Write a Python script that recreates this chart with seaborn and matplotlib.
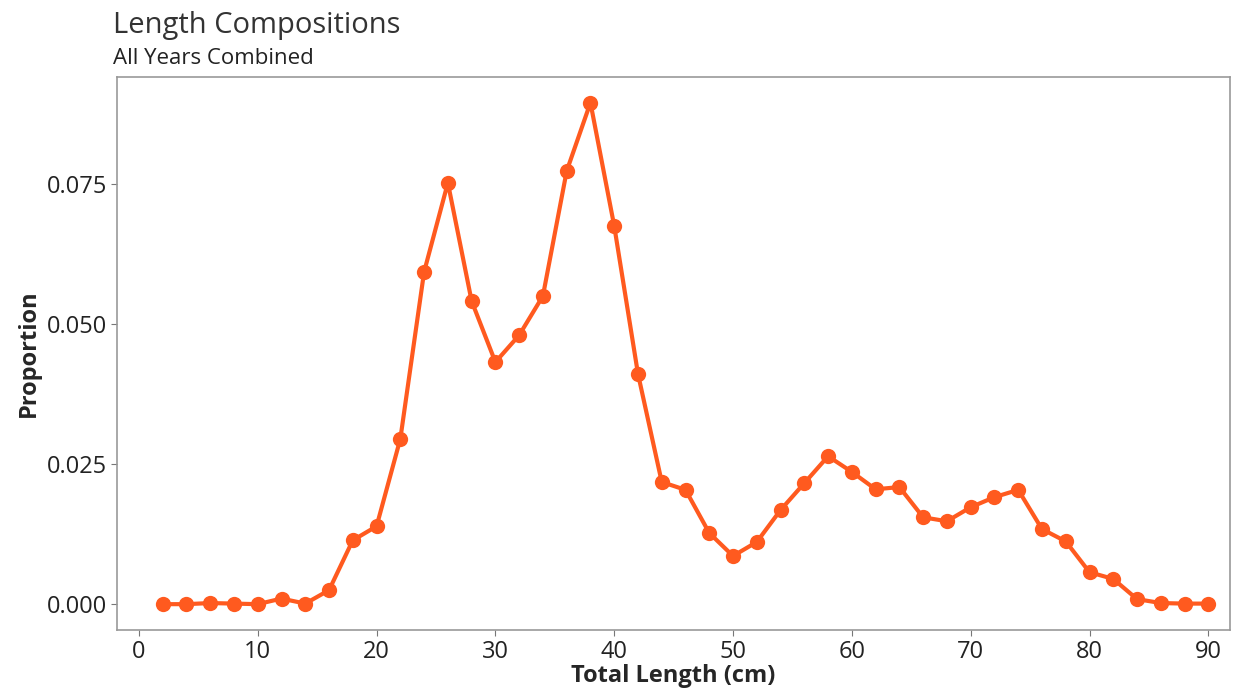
import numpy as np
import pandas as pd
import seaborn as sns
import matplotlib.pyplot as plt

# length bins (cm) and proportion per bin
length_cm = [2, 4, 6, 8, 10, 12, 14, 16, 18, 20, 22, 24, 26, 28, 30, 32, 34, 36, 38, 40,
             42, 44, 46, 48, 50, 52, 54, 56, 58, 60, 62, 64, 66, 68, 70, 72, 74, 76, 78, 80,
             82, 84, 86, 88, 90]
proportion = [0.0000, 0.0000, 0.0002, 0.0001, 0.0000, 0.0010, 0.0001, 0.0025, 0.0114, 0.0139,
              0.0295, 0.0593, 0.0752, 0.0541, 0.0432, 0.0480, 0.0550, 0.0773, 0.0895, 0.0675,
              0.0411, 0.0218, 0.0204, 0.0127, 0.0086, 0.0111, 0.0168, 0.0216, 0.0264, 0.0236,
              0.0205, 0.0209, 0.0155, 0.0148, 0.0173, 0.0191, 0.0204, 0.0134, 0.0112, 0.0057,
              0.0045, 0.0009, 0.0002, 0.0001, 0.0001]
x_ticks = [0, 10, 20, 30, 40, 50, 60, 70, 80, 90]
y_ticks = [0.000, 0.025, 0.050, 0.075]

df = pd.DataFrame({'Total Length (cm)': length_cm, 'Proportion': proportion})

sns.set_style('white')
plt.rcParams['font.family'] = ['Open Sans', 'DejaVu Sans']

fig = plt.figure(figsize=(12.44, 6.93), dpi=100)
ax = fig.add_axes([0.094, 0.091, 0.895, 0.798])

color = '#FF5A1F'
sns.lineplot(data=df, x='Total Length (cm)', y='Proportion', ax=ax, color=color,
             linewidth=3, marker='o', markersize=11, markeredgewidth=0)

ax.set_xlim(-1.85, 91.85)
ax.set_ylim(-0.0046, 0.0941)
ax.set_xticks(x_ticks)
ax.set_yticks(y_ticks)
ax.set_yticklabels([f'{v:.3f}' for v in y_ticks])
ax.tick_params(axis='both', labelsize=17, length=4, color='#777777', direction='out',
               bottom=True, left=True, labelcolor='#222222', pad=3)
ax.set_xlabel('Total Length (cm)', fontsize=17, fontweight='bold', labelpad=0)
ax.set_ylabel('Proportion', fontsize=17, fontweight='bold', labelpad=4)

for s in ax.spines.values():
    s.set_color('#999999')
    s.set_linewidth(1.2)

fig.text(0.091, 0.953, 'Length Compositions', fontsize=21, color='#333333', va='baseline')
fig.text(0.091, 0.908, 'All Years Combined', fontsize=16, color='#222222', va='baseline')

fig.savefig('out.png', dpi=100, facecolor='white')
